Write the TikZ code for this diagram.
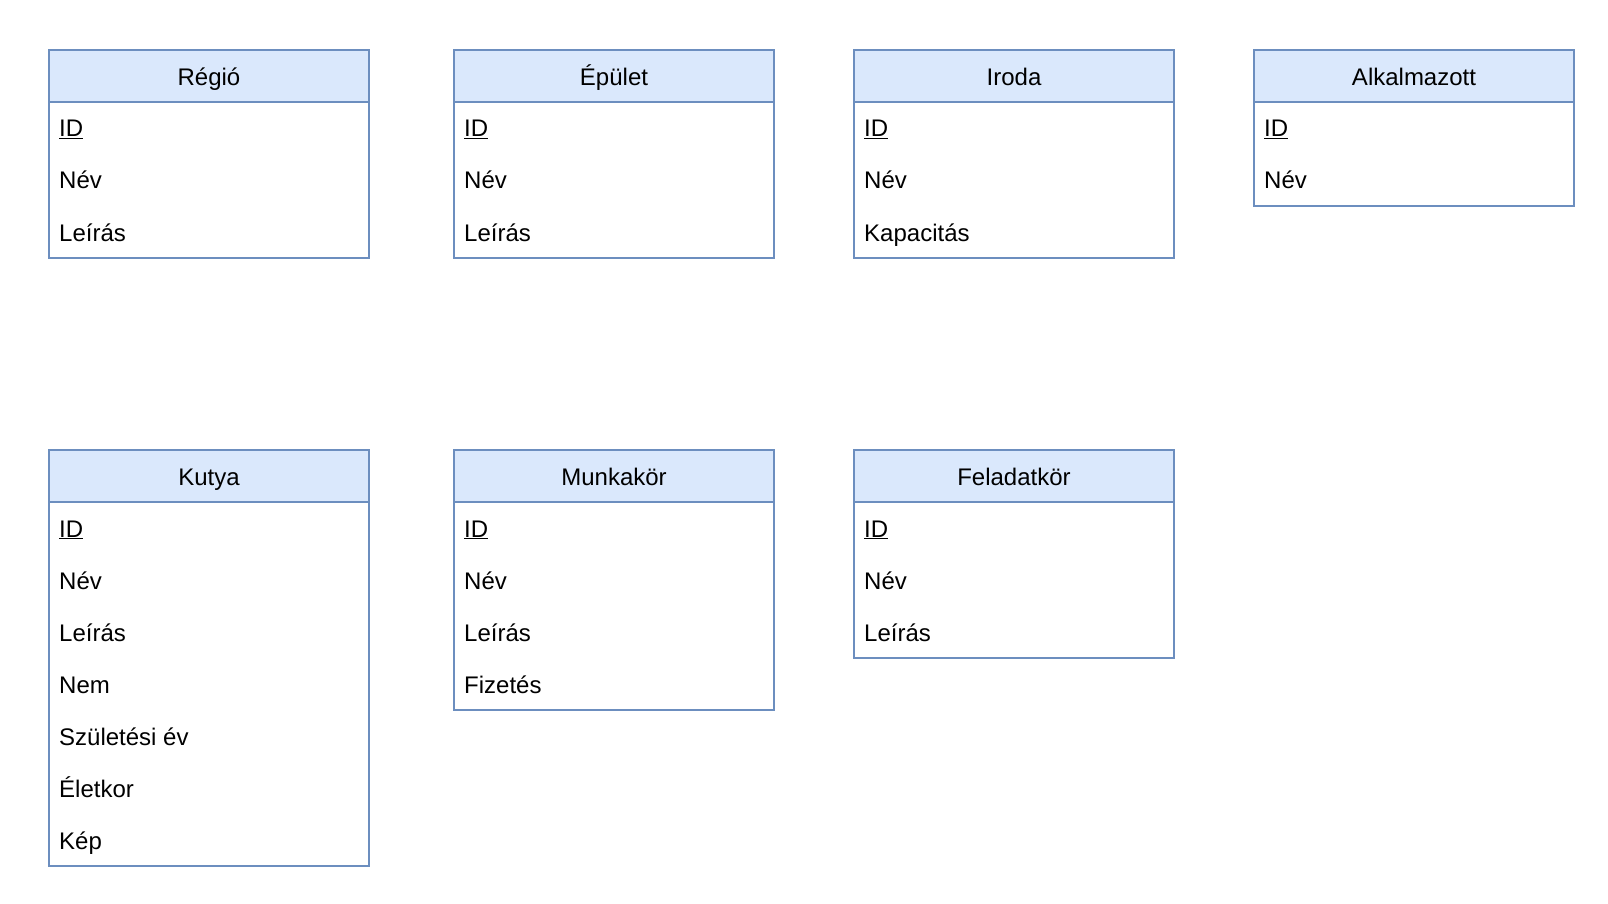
\documentclass[tikz,border=0pt]{standalone}
\usepackage{fontspec}
\setmainfont{Liberation Sans}
\definecolor{hdrfill}{HTML}{DAE8FC}
\definecolor{hdrline}{HTML}{6C8EBF}
\tikzset{
  x=1pt, y=-1pt,
  txt/.style={font=\fontsize{24}{29}\selectfont, text=black, inner sep=0pt},
  hdr/.style={draw=hdrline, fill=hdrfill, line width=2pt, minimum width=320pt,
    minimum height=52pt, inner sep=0pt, anchor=north west},
  body/.style={draw=hdrline, fill=white, line width=2pt, minimum width=320pt,
    inner sep=0pt, anchor=north west},
  ttl/.style={txt, anchor=base},
  fld/.style={txt, anchor=base west},
}
\newcommand\ertable[6]{%
  \node[body, minimum height=#5*52pt] (#1-body) at (#2,#3+52) {};
  \node[hdr] (#1) at (#2,#3) {};
  \node[ttl] (#1-title) at ([yshift=-9.2pt]#1.center) {#4};
  \foreach \t [count=\i] in {#6}
    \node[fld] (#1-f\i) at ([xshift=11pt,yshift={-(\i*52-18)*1pt}]#1.south west) {\t};
}
\begin{document}
\begin{tikzpicture}
\useasboundingbox (0,0) rectangle (1608,904);
\ertable{regio}{48}{49}{Régió}{3}{\underline{ID},Név,Leírás}
\ertable{epulet}{453}{49}{Épület}{3}{\underline{ID},Név,Leírás}
\ertable{iroda}{853}{49}{Iroda}{3}{\underline{ID},Név,Kapacitás}
\ertable{alkalmazott}{1253}{49}{Alkalmazott}{2}{\underline{ID},Név}
\ertable{kutya}{48}{449}{Kutya}{7}{\underline{ID},Név,Leírás,Nem,Születési év,Életkor,Kép}
\ertable{munkakor}{453}{449}{Munkakör}{4}{\underline{ID},Név,Leírás,Fizetés}
\ertable{feladatkor}{853}{449}{Feladatkör}{3}{\underline{ID},Név,Leírás}
\end{tikzpicture}
\end{document}
